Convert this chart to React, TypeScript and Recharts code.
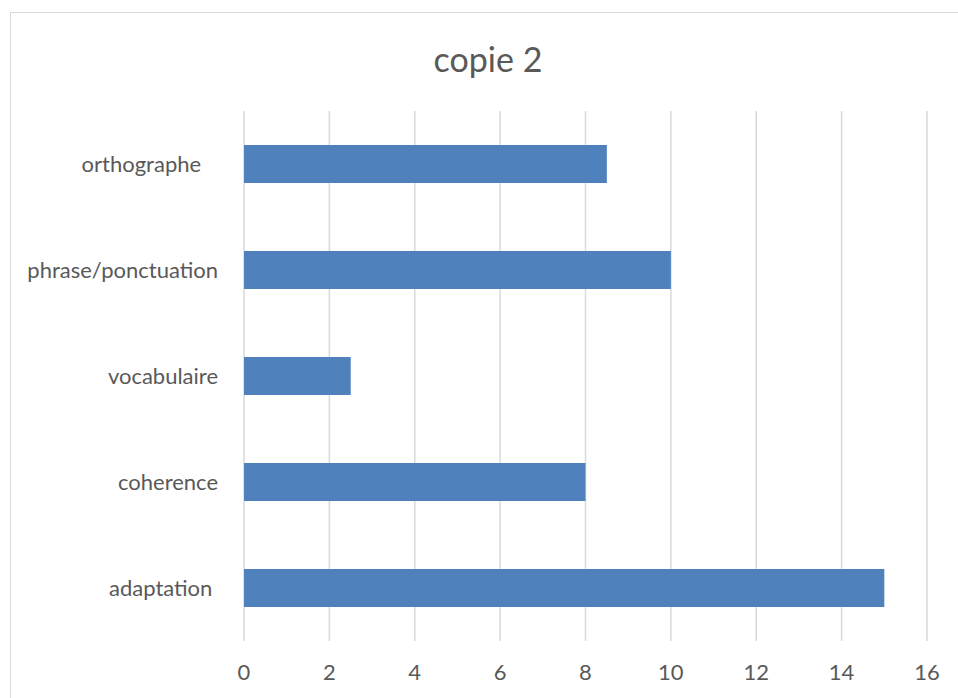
import React from 'react';
import { BarChart, Bar, XAxis, YAxis, CartesianGrid } from 'recharts';

const categories = ['orthographe', 'phrase/ponctuation', 'vocabulaire', 'coherence', 'adaptation'];
const labelPadding = ['   ', '', '', '', ' '];
const scores = [8.5, 10, 2.5, 8, 15];
const xTicks = [0, 2, 4, 6, 8, 10, 12, 14, 16];
const title = 'copie 2';

const data = categories.map((c, i) => ({ name: c, label: c + labelPadding[i], value: scores[i] }));

const FONT = 'Lato, "Noto Sans", sans-serif';
const TEXT = '#595959';

const YTick = (props: any) => {
  const { y, payload, index } = props;
  const lbl = data[index] ? data[index].label : payload.value;
  return (
    <text x={218} y={y} dy="0.35em" textAnchor="end" fill={TEXT} fontSize={22} fontFamily={FONT} style={{ whiteSpace: 'pre' }}>
      {lbl}
    </text>
  );
};

const XTick = (props: any) => {
  const { x, payload } = props;
  return (
    <text x={x} y={672} dy="0.35em" textAnchor="middle" fill={TEXT} fontSize={22} fontFamily={FONT}>
      {payload.value}
    </text>
  );
};

export default function App() {
  return (
    <div style={{ position: 'absolute', left: 0, top: 0, width: 958, height: 698, overflow: 'hidden', background: '#fff' }}>
      <div style={{ position: 'absolute', left: 10, top: 12, width: 980, height: 720, border: '1.5px solid #d9d9d9', boxSizing: 'border-box' }} />
      <div style={{ position: 'absolute', left: 0, top: 39, width: 976, textAlign: 'center', fontFamily: FONT, fontSize: 34, color: TEXT, lineHeight: '40px' }}>
        {title}
      </div>
      <div style={{ position: 'absolute', left: 0, top: 0 }}>
        <BarChart
          width={958}
          height={698}
          data={data}
          layout="vertical"
          margin={{ top: 111, right: 31, bottom: 27, left: 0 }}
          barCategoryGap="32%"
        >
          <CartesianGrid horizontal={false} vertical stroke="#d9d9d9" strokeWidth={1.5} />
          <XAxis type="number" domain={[0, 16]} ticks={xTicks} axisLine={false} tickLine={false} tick={<XTick />} interval={0} height={30} />
          <YAxis type="category" dataKey="name" width={244} axisLine={false} tickLine={false} tick={<YTick />} interval={0} />
          <Bar dataKey="value" fill="#4f81bd" isAnimationActive={false} />
        </BarChart>
      </div>
    </div>
  );
}
